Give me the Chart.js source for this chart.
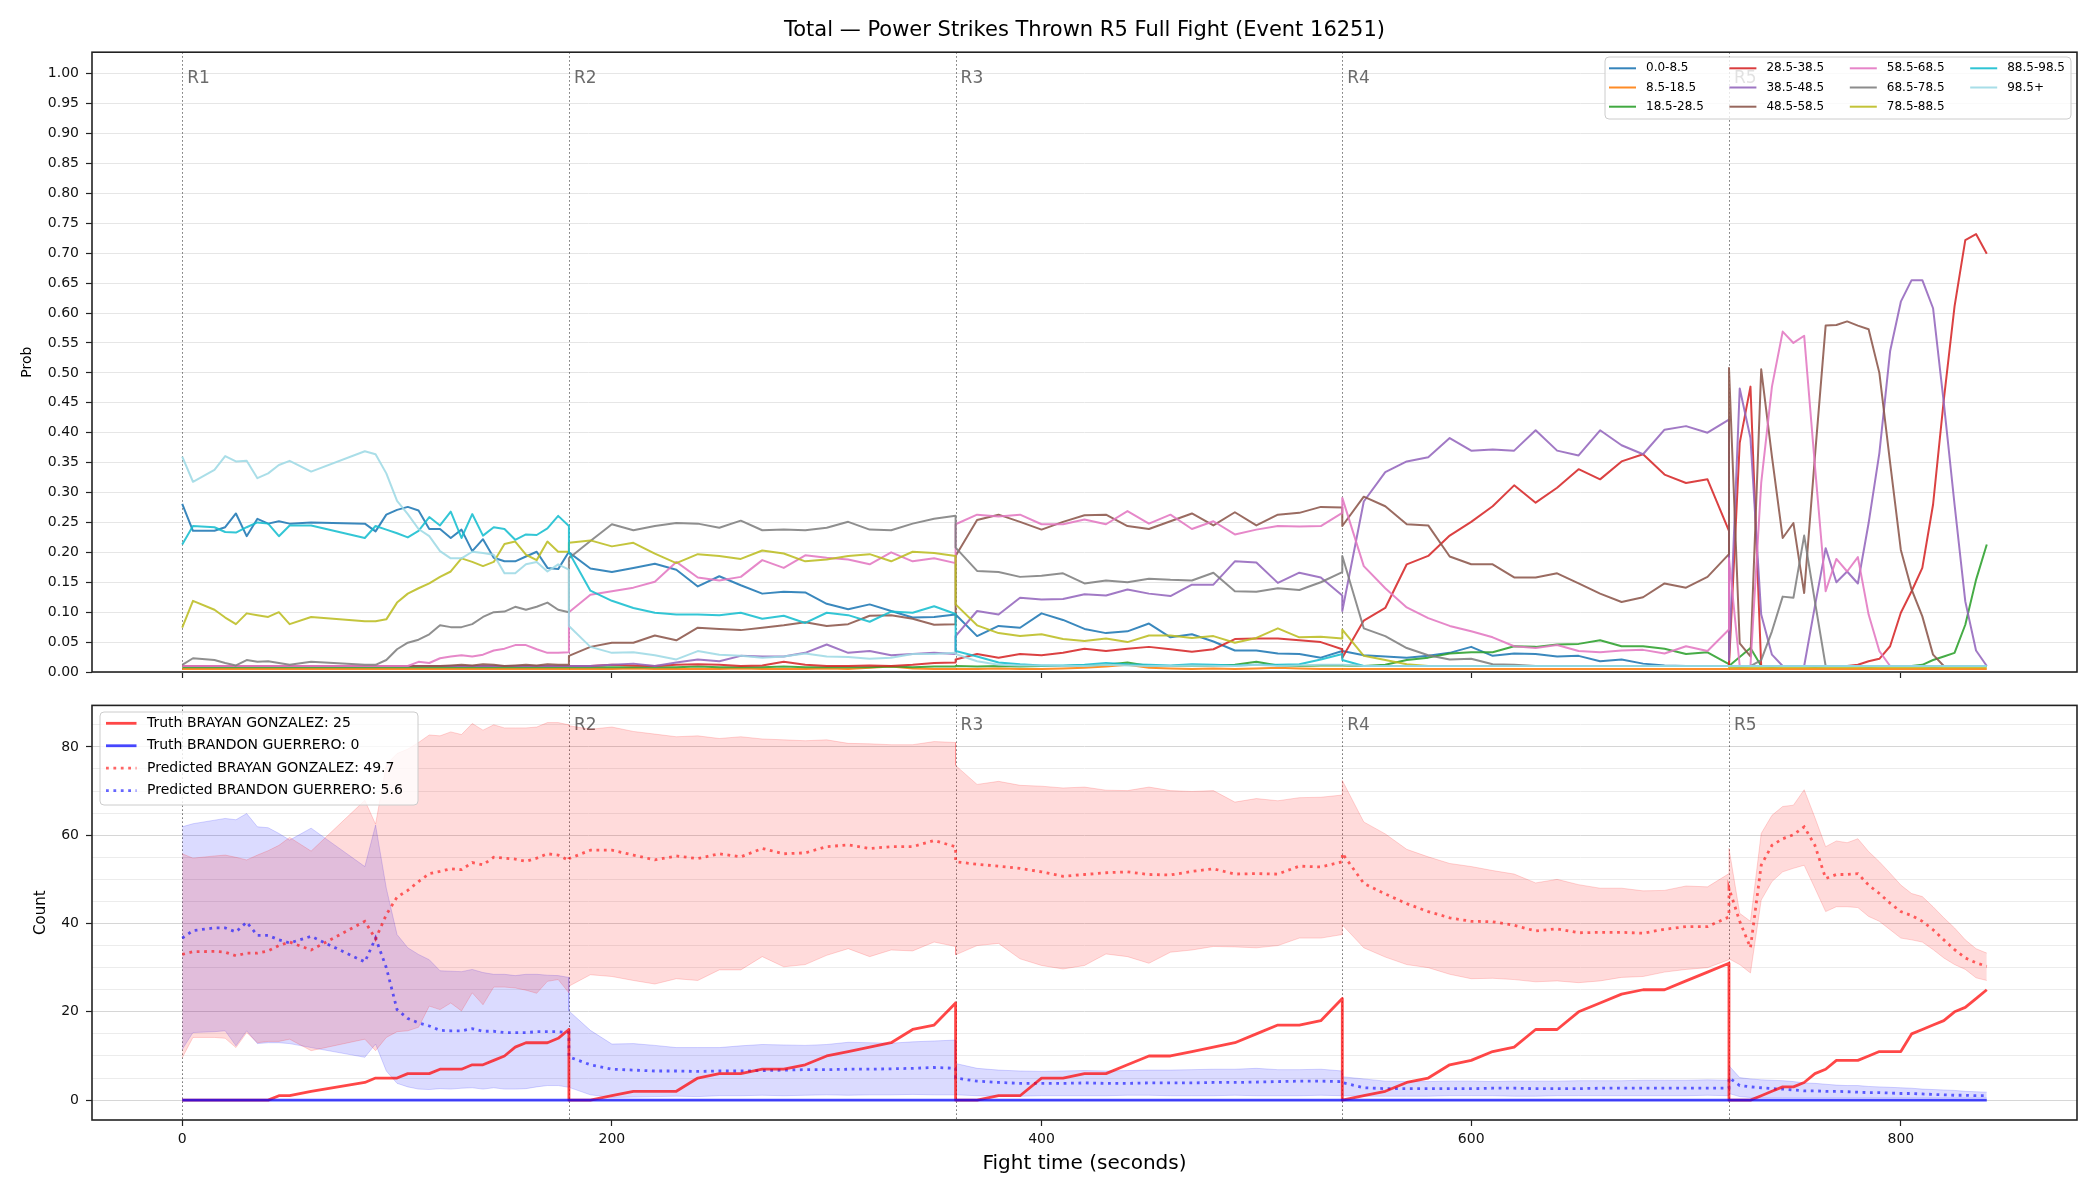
<!DOCTYPE html>
<html>
<head>
<meta charset="utf-8">
<script src="https://cdn.jsdelivr.net/npm/chart.js@4.4.1/dist/chart.umd.min.js"></script>
<style>
  body { margin: 0; background: #fff; }
  #wrap { position: relative; width: 2100px; height: 1200px; }
  #probChart { position: absolute; left: 0; top: 0; }
  #countChart { position: absolute; left: 0; top: 690px; }
</style>
</head>
<body>
<div id="wrap">
  <canvas id="probChart" width="2100" height="690"></canvas>
  <canvas id="countChart" width="2100" height="510"></canvas>
</div>
<script>
// sample times (seconds); each round repeats its boundary second
const times = [
  0, 5, 15, 20, 25, 30, 35, 40, 45, 50, 60, 85, 90, 95, 100, 105, 110, 115, 120, 125, 130, 135, 140, 145, 150, 155, 160, 165, 170, 175, 180,
  180, 190, 200, 210, 220, 230, 240, 250, 260, 270, 280, 290, 300, 310, 320, 330, 340, 350, 360,
  360, 370, 380, 390, 400, 410, 420, 430, 440, 450, 460, 470, 480, 490, 500, 510, 520, 530, 540,
  540, 550, 560, 570, 580, 590, 600, 610, 620, 630, 640, 650, 660, 670, 680, 690, 700, 710, 720,
  720, 725, 730, 735, 740, 745, 750, 755, 760, 765, 770, 775, 780, 785, 790, 795, 800, 805, 810, 815, 820, 825, 830, 835, 840
];

const roundStarts = [0, 180, 360, 540, 720];
const roundNames = ['R1', 'R2', 'R3', 'R4', 'R5'];

const bucketLabels = ['0.0-8.5', '8.5-18.5', '18.5-28.5', '28.5-38.5', '38.5-48.5', '48.5-58.5',
  '58.5-68.5', '68.5-78.5', '78.5-88.5', '88.5-98.5', '98.5+'];

// probability of each bucket
const p0_8 = [
  0.281, 0.236, 0.236, 0.242, 0.265, 0.227, 0.256, 0.248, 0.252, 0.248, 0.250, 0.248, 0.235, 0.263, 0.271, 0.276, 0.270, 0.239, 0.239, 0.224, 0.238, 0.202, 0.222, 0.191, 0.185, 0.185, 0.193, 0.201, 0.174, 0.172, 0.201,
  0.200, 0.173, 0.167, 0.174, 0.181, 0.171, 0.143, 0.160, 0.145, 0.131, 0.134, 0.133, 0.114, 0.105, 0.113, 0.102, 0.091, 0.092, 0.096,
  0.096, 0.060, 0.077, 0.074, 0.098, 0.087, 0.072, 0.065, 0.068, 0.081, 0.058, 0.063, 0.051, 0.036, 0.036, 0.031, 0.030, 0.024, 0.035,
  0.035, 0.028, 0.026, 0.024, 0.027, 0.032, 0.042, 0.027, 0.031, 0.030, 0.026, 0.027, 0.018, 0.021, 0.014, 0.011, 0.010, 0.010, 0.010,
  0.010, 0.009, 0.010, 0.010, 0.009, 0.010, 0.010, 0.010, 0.009, 0.010, 0.010, 0.010, 0.010, 0.009, 0.010, 0.010, 0.010, 0.010, 0.010, 0.009, 0.010, 0.010, 0.010, 0.010, 0.010
];
const p8_18 = [
  0.005, 0.005, 0.005, 0.005, 0.005, 0.005, 0.005, 0.005, 0.005, 0.005, 0.005, 0.005, 0.005, 0.005, 0.005, 0.005, 0.005, 0.005, 0.005, 0.005, 0.005, 0.005, 0.005, 0.005, 0.005, 0.005, 0.005, 0.005, 0.005, 0.005, 0.005,
  0.005, 0.005, 0.005, 0.006, 0.005, 0.005, 0.005, 0.005, 0.006, 0.005, 0.005, 0.005, 0.006, 0.005, 0.007, 0.009, 0.006, 0.005, 0.005,
  0.005, 0.005, 0.006, 0.005, 0.005, 0.006, 0.007, 0.009, 0.012, 0.007, 0.006, 0.005, 0.006, 0.005, 0.006, 0.007, 0.006, 0.005, 0.005,
  0.005, 0.005, 0.005, 0.005, 0.005, 0.005, 0.005, 0.005, 0.005, 0.005, 0.005, 0.005, 0.005, 0.005, 0.005, 0.005, 0.005, 0.005, 0.005,
  0.005, 0.005, 0.005, 0.005, 0.005, 0.005, 0.005, 0.005, 0.005, 0.005, 0.005, 0.005, 0.005, 0.005, 0.005, 0.005, 0.005, 0.005, 0.005, 0.005, 0.005, 0.005, 0.005, 0.005, 0.005
];
const p18_28 = [
  0.008, 0.008, 0.008, 0.008, 0.008, 0.008, 0.008, 0.008, 0.008, 0.008, 0.008, 0.008, 0.008, 0.008, 0.008, 0.008, 0.008, 0.008, 0.008, 0.008, 0.008, 0.008, 0.008, 0.008, 0.008, 0.008, 0.008, 0.008, 0.008, 0.008, 0.008,
  0.008, 0.008, 0.008, 0.008, 0.008, 0.008, 0.009, 0.008, 0.008, 0.008, 0.009, 0.008, 0.008, 0.008, 0.008, 0.009, 0.008, 0.009, 0.009,
  0.010, 0.009, 0.010, 0.009, 0.010, 0.010, 0.011, 0.012, 0.016, 0.010, 0.010, 0.011, 0.010, 0.012, 0.017, 0.011, 0.010, 0.011, 0.011,
  0.011, 0.010, 0.012, 0.020, 0.024, 0.031, 0.033, 0.033, 0.043, 0.042, 0.046, 0.047, 0.053, 0.043, 0.043, 0.039, 0.030, 0.033, 0.013,
  0.010, 0.025, 0.040, 0.010, 0.010, 0.010, 0.010, 0.010, 0.010, 0.010, 0.010, 0.010, 0.010, 0.010, 0.010, 0.010, 0.010, 0.010, 0.012, 0.020, 0.026, 0.032, 0.079, 0.154, 0.213
];
const p28_38 = [
  0.010, 0.010, 0.010, 0.010, 0.010, 0.010, 0.010, 0.010, 0.010, 0.010, 0.010, 0.010, 0.010, 0.010, 0.010, 0.010, 0.010, 0.010, 0.010, 0.010, 0.010, 0.010, 0.010, 0.010, 0.010, 0.010, 0.010, 0.010, 0.010, 0.010, 0.010,
  0.010, 0.010, 0.012, 0.011, 0.010, 0.012, 0.013, 0.012, 0.010, 0.011, 0.017, 0.012, 0.010, 0.010, 0.011, 0.010, 0.012, 0.015, 0.016,
  0.021, 0.030, 0.024, 0.030, 0.028, 0.032, 0.039, 0.035, 0.039, 0.042, 0.038, 0.034, 0.038, 0.055, 0.056, 0.056, 0.053, 0.050, 0.038,
  0.024, 0.086, 0.107, 0.180, 0.194, 0.228, 0.251, 0.277, 0.312, 0.283, 0.308, 0.339, 0.322, 0.352, 0.364, 0.330, 0.316, 0.322, 0.236,
  0.010, 0.383, 0.477, 0.010, 0.010, 0.010, 0.010, 0.010, 0.010, 0.010, 0.010, 0.010, 0.012, 0.018, 0.022, 0.043, 0.099, 0.135, 0.174, 0.280, 0.455, 0.611, 0.722, 0.732, 0.699
];
const p38_48 = [
  0.010, 0.010, 0.010, 0.010, 0.010, 0.010, 0.010, 0.010, 0.010, 0.010, 0.010, 0.010, 0.010, 0.010, 0.010, 0.010, 0.010, 0.010, 0.010, 0.010, 0.010, 0.010, 0.010, 0.010, 0.010, 0.010, 0.010, 0.010, 0.010, 0.010, 0.010,
  0.010, 0.010, 0.012, 0.014, 0.010, 0.016, 0.021, 0.018, 0.027, 0.026, 0.026, 0.032, 0.046, 0.032, 0.035, 0.028, 0.030, 0.032, 0.030,
  0.060, 0.102, 0.096, 0.124, 0.121, 0.122, 0.130, 0.128, 0.138, 0.131, 0.127, 0.146, 0.146, 0.185, 0.183, 0.149, 0.166, 0.158, 0.128,
  0.102, 0.285, 0.334, 0.352, 0.359, 0.391, 0.370, 0.372, 0.370, 0.404, 0.370, 0.362, 0.404, 0.379, 0.364, 0.405, 0.411, 0.400, 0.422,
  0.020, 0.474, 0.391, 0.096, 0.029, 0.010, 0.010, 0.010, 0.110, 0.207, 0.150, 0.168, 0.148, 0.249, 0.366, 0.536, 0.619, 0.655, 0.655, 0.608, 0.450, 0.280, 0.118, 0.036, 0.010
];
const p48_58 = [
  0.010, 0.010, 0.010, 0.010, 0.010, 0.010, 0.010, 0.010, 0.010, 0.010, 0.010, 0.010, 0.010, 0.010, 0.010, 0.010, 0.010, 0.010, 0.010, 0.011, 0.012, 0.011, 0.013, 0.012, 0.010, 0.011, 0.012, 0.011, 0.013, 0.012, 0.012,
  0.027, 0.042, 0.049, 0.049, 0.061, 0.053, 0.074, 0.072, 0.070, 0.074, 0.078, 0.083, 0.077, 0.080, 0.094, 0.095, 0.089, 0.079, 0.080,
  0.194, 0.254, 0.263, 0.251, 0.238, 0.251, 0.262, 0.263, 0.244, 0.239, 0.252, 0.265, 0.245, 0.267, 0.245, 0.263, 0.266, 0.276, 0.275,
  0.244, 0.293, 0.277, 0.247, 0.245, 0.193, 0.180, 0.180, 0.158, 0.158, 0.165, 0.148, 0.131, 0.117, 0.125, 0.148, 0.141, 0.159, 0.197,
  0.508, 0.048, 0.026, 0.506, 0.360, 0.224, 0.249, 0.132, 0.360, 0.579, 0.580, 0.586, 0.579, 0.573, 0.500, 0.350, 0.204, 0.138, 0.093, 0.029, 0.010, 0.010, 0.010, 0.010, 0.010
];
const p58_68 = [
  0.010, 0.010, 0.010, 0.010, 0.010, 0.010, 0.010, 0.010, 0.010, 0.010, 0.010, 0.010, 0.010, 0.010, 0.010, 0.010, 0.017, 0.015, 0.023, 0.026, 0.028, 0.026, 0.029, 0.036, 0.039, 0.045, 0.045, 0.038, 0.032, 0.032, 0.033,
  0.100, 0.129, 0.135, 0.141, 0.151, 0.184, 0.158, 0.153, 0.159, 0.187, 0.174, 0.195, 0.191, 0.188, 0.180, 0.200, 0.185, 0.190, 0.182,
  0.247, 0.263, 0.260, 0.263, 0.247, 0.247, 0.255, 0.247, 0.269, 0.248, 0.263, 0.239, 0.252, 0.230, 0.238, 0.244, 0.243, 0.244, 0.266,
  0.291, 0.177, 0.140, 0.108, 0.090, 0.077, 0.068, 0.058, 0.043, 0.040, 0.045, 0.035, 0.033, 0.036, 0.037, 0.031, 0.043, 0.035, 0.071,
  0.190, 0.010, 0.010, 0.316, 0.477, 0.569, 0.550, 0.562, 0.345, 0.135, 0.189, 0.168, 0.192, 0.096, 0.035, 0.010, 0.010, 0.010, 0.010, 0.010, 0.010, 0.010, 0.010, 0.010, 0.010
];
const p68_78 = [
  0.012, 0.023, 0.020, 0.015, 0.011, 0.020, 0.017, 0.018, 0.015, 0.012, 0.017, 0.012, 0.012, 0.020, 0.038, 0.049, 0.054, 0.063, 0.078, 0.075, 0.075, 0.080, 0.092, 0.100, 0.101, 0.109, 0.104, 0.109, 0.116, 0.104, 0.100,
  0.190, 0.219, 0.247, 0.237, 0.244, 0.249, 0.248, 0.241, 0.253, 0.237, 0.238, 0.237, 0.241, 0.251, 0.238, 0.237, 0.248, 0.256, 0.261,
  0.208, 0.169, 0.167, 0.159, 0.161, 0.165, 0.148, 0.153, 0.150, 0.156, 0.154, 0.153, 0.166, 0.135, 0.134, 0.140, 0.137, 0.150, 0.167,
  0.194, 0.073, 0.060, 0.040, 0.028, 0.021, 0.022, 0.013, 0.012, 0.010, 0.010, 0.010, 0.010, 0.010, 0.010, 0.010, 0.010, 0.010, 0.010,
  0.010, 0.010, 0.010, 0.020, 0.068, 0.126, 0.124, 0.228, 0.118, 0.010, 0.010, 0.010, 0.010, 0.010, 0.010, 0.010, 0.010, 0.010, 0.010, 0.010, 0.010, 0.010, 0.010, 0.010, 0.010
];
const p78_88 = [
  0.074, 0.119, 0.104, 0.091, 0.080, 0.098, 0.095, 0.092, 0.100, 0.080, 0.092, 0.085, 0.085, 0.088, 0.116, 0.131, 0.140, 0.148, 0.159, 0.168, 0.190, 0.184, 0.177, 0.184, 0.214, 0.218, 0.196, 0.187, 0.218, 0.201, 0.201,
  0.216, 0.220, 0.210, 0.216, 0.198, 0.182, 0.197, 0.194, 0.189, 0.203, 0.198, 0.185, 0.188, 0.194, 0.197, 0.185, 0.201, 0.199, 0.194,
  0.113, 0.078, 0.065, 0.060, 0.063, 0.055, 0.052, 0.056, 0.050, 0.061, 0.061, 0.057, 0.060, 0.049, 0.057, 0.073, 0.058, 0.059, 0.056,
  0.071, 0.027, 0.020, 0.013, 0.010, 0.010, 0.010, 0.010, 0.010, 0.010, 0.010, 0.010, 0.010, 0.010, 0.010, 0.010, 0.010, 0.010, 0.010,
  0.008, 0.008, 0.008, 0.008, 0.008, 0.008, 0.008, 0.008, 0.008, 0.008, 0.008, 0.008, 0.008, 0.008, 0.008, 0.008, 0.008, 0.008, 0.008, 0.008, 0.008, 0.008, 0.008, 0.008, 0.008
];
const p88_98 = [
  0.213, 0.244, 0.242, 0.234, 0.233, 0.242, 0.250, 0.248, 0.227, 0.245, 0.245, 0.224, 0.244, 0.238, 0.232, 0.225, 0.236, 0.259, 0.245, 0.268, 0.224, 0.264, 0.228, 0.242, 0.239, 0.221, 0.230, 0.229, 0.240, 0.261, 0.244,
  0.200, 0.136, 0.119, 0.107, 0.099, 0.096, 0.096, 0.095, 0.099, 0.089, 0.094, 0.082, 0.099, 0.095, 0.084, 0.101, 0.099, 0.110, 0.097,
  0.035, 0.026, 0.016, 0.013, 0.011, 0.011, 0.012, 0.015, 0.013, 0.012, 0.011, 0.013, 0.012, 0.011, 0.012, 0.012, 0.013, 0.021, 0.030,
  0.020, 0.010, 0.010, 0.010, 0.010, 0.010, 0.010, 0.010, 0.010, 0.010, 0.010, 0.010, 0.010, 0.010, 0.010, 0.010, 0.010, 0.010, 0.010,
  0.010, 0.010, 0.010, 0.010, 0.010, 0.010, 0.010, 0.010, 0.010, 0.010, 0.010, 0.010, 0.010, 0.010, 0.010, 0.010, 0.010, 0.010, 0.010, 0.010, 0.010, 0.010, 0.010, 0.010, 0.010
];
const p98plus = [
  0.360, 0.318, 0.338, 0.361, 0.352, 0.353, 0.324, 0.332, 0.346, 0.353, 0.335, 0.369, 0.364, 0.332, 0.286, 0.264, 0.239, 0.227, 0.202, 0.190, 0.190, 0.201, 0.199, 0.196, 0.165, 0.165, 0.180, 0.184, 0.168, 0.180, 0.171,
  0.077, 0.042, 0.032, 0.033, 0.028, 0.021, 0.035, 0.029, 0.027, 0.024, 0.026, 0.031, 0.026, 0.025, 0.022, 0.024, 0.030, 0.030, 0.032,
  0.030, 0.018, 0.012, 0.011, 0.011, 0.010, 0.010, 0.012, 0.011, 0.010, 0.010, 0.011, 0.010, 0.010, 0.012, 0.010, 0.011, 0.012, 0.012,
  0.012, 0.010, 0.010, 0.010, 0.010, 0.010, 0.010, 0.010, 0.010, 0.010, 0.010, 0.010, 0.010, 0.010, 0.010, 0.010, 0.010, 0.010, 0.010,
  0.010, 0.010, 0.010, 0.010, 0.010, 0.010, 0.010, 0.010, 0.010, 0.010, 0.010, 0.010, 0.010, 0.010, 0.010, 0.010, 0.010, 0.010, 0.010, 0.010, 0.010, 0.010, 0.010, 0.010, 0.010
];

// cumulative counts
const truthGonzalez = [
  0, 0, 0, 0, 0, 0, 0, 0, 1, 1, 2, 4, 5, 5, 5, 6, 6, 6, 7, 7, 7, 8, 8, 9, 10, 12, 13, 13, 13, 14, 16,
  0, 0, 1, 2, 2, 2, 5, 6, 6, 7, 7, 8, 10, 11, 12, 13, 16, 17, 22,
  0, 0, 1, 1, 5, 5, 6, 6, 8, 10, 10, 11, 12, 13, 15, 17, 17, 18, 23,
  0, 1, 2, 4, 5, 8, 9, 11, 12, 16, 16, 20, 22, 24, 25, 25, 27, 29, 31,
  0, 0, 0, 1, 2, 3, 3, 4, 6, 7, 9, 9, 9, 10, 11, 11, 11, 15, 16, 17, 18, 20, 21, 23, 25
];
const truthGuerrero = [
  0, 0, 0, 0, 0, 0, 0, 0, 0, 0, 0, 0, 0, 0, 0, 0, 0, 0, 0, 0, 0, 0, 0, 0, 0, 0, 0, 0, 0, 0, 0,
  0, 0, 0, 0, 0, 0, 0, 0, 0, 0, 0, 0, 0, 0, 0, 0, 0, 0, 0,
  0, 0, 0, 0, 0, 0, 0, 0, 0, 0, 0, 0, 0, 0, 0, 0, 0, 0, 0,
  0, 0, 0, 0, 0, 0, 0, 0, 0, 0, 0, 0, 0, 0, 0, 0, 0, 0, 0,
  0, 0, 0, 0, 0, 0, 0, 0, 0, 0, 0, 0, 0, 0, 0, 0, 0, 0, 0, 0, 0, 0, 0, 0, 0
];
const predGonzalez = [
  33.0, 33.6, 33.7, 33.5, 32.7, 33.3, 33.3, 33.8, 35.0, 35.8, 34.0, 40.5, 36.5, 42.0, 46.0, 47.5, 49.5, 51.3, 51.8, 52.4, 52.2, 53.8, 53.3, 55.0, 54.8, 54.6, 54.1, 54.8, 55.8, 55.5, 54.3,
  54.7, 56.6, 56.6, 55.5, 54.4, 55.3, 54.7, 55.8, 55.1, 57.0, 55.8, 56.0, 57.4, 57.8, 57.0, 57.4, 57.4, 58.8, 57.4,
  54.0, 53.4, 53.0, 52.5, 51.7, 50.7, 51.1, 51.5, 51.7, 51.1, 51.0, 51.8, 52.4, 51.2, 51.3, 51.2, 53.0, 52.8, 54.0,
  55.9, 49.1, 46.7, 44.5, 42.7, 41.3, 40.5, 40.4, 39.6, 38.3, 38.8, 37.9, 38.0, 38.0, 37.8, 38.7, 39.3, 39.3, 41.5,
  48.0, 40.5, 34.5, 53.2, 57.7, 59.2, 60.1, 61.9, 57.7, 50.2, 51.1, 51.1, 51.3, 48.7, 46.8, 44.6, 42.7, 41.8, 40.5, 38.6, 36.3, 34.1, 32.2, 31.1, 30.3
];
const predGuerrero = [
  36.7, 38.4, 39.0, 39.0, 38.1, 40.3, 37.3, 37.3, 36.3, 35.6, 37.1, 31.3, 36.7, 30.0, 20.5, 18.5, 17.5, 16.8, 15.8, 15.7, 15.7, 16.2, 15.6, 15.6, 15.3, 15.3, 15.3, 15.5, 15.5, 15.5, 15.3,
  9.8, 8.0, 7.0, 6.8, 6.6, 6.6, 6.5, 6.6, 6.6, 6.7, 6.8, 6.9, 6.9, 7.0, 7.0, 7.1, 7.2, 7.4, 7.2,
  5.0, 4.3, 4.0, 3.8, 3.8, 3.8, 3.9, 3.8, 3.8, 3.9, 3.9, 3.9, 4.0, 4.0, 4.1, 4.2, 4.3, 4.3, 4.2,
  4.0, 2.8, 2.6, 2.6, 2.6, 2.6, 2.6, 2.7, 2.7, 2.6, 2.6, 2.6, 2.7, 2.7, 2.7, 2.7, 2.7, 2.7, 2.7,
  5.1, 3.3, 3.0, 2.8, 2.6, 2.5, 2.3, 2.1, 2.1, 2.0, 2.0, 1.9, 1.8, 1.7, 1.7, 1.6, 1.5, 1.5, 1.4, 1.3, 1.2, 1.1, 1.1, 1.0, 1.0
];
const gonzalezHi = [
  55.8, 54.8, 55.3, 55.5, 55.0, 54.4, 55.5, 56.5, 57.7, 59.5, 56.4, 67.9, 62.5, 76.0, 78.5, 79.5, 81.0, 82.7, 82.5, 83.4, 82.8, 85.3, 83.8, 85.0, 84.3, 84.3, 84.3, 84.5, 85.5, 85.5, 85.0,
  84.8, 84.0, 84.5, 83.5, 82.9, 82.3, 82.5, 81.9, 82.3, 81.8, 81.6, 81.4, 81.6, 80.8, 80.7, 80.5, 80.5, 81.2, 81.0,
  75.8, 71.5, 72.2, 71.3, 71.1, 70.7, 70.9, 70.2, 70.1, 70.9, 70.1, 69.9, 70.1, 67.5, 68.3, 67.8, 68.5, 68.6, 69.1,
  72.4, 63.0, 60.3, 56.8, 55.1, 53.6, 52.9, 52.0, 51.2, 49.2, 50.0, 48.8, 48.0, 48.0, 47.4, 47.5, 48.5, 48.3, 51.3,
  57.0, 42.3, 40.5, 60.4, 64.5, 66.5, 66.8, 70.3, 64.0, 57.4, 58.7, 58.3, 59.2, 56.3, 54.0, 51.4, 48.7, 46.8, 46.1, 43.8, 41.3, 39.0, 36.3, 34.3, 33.3
];
const gonzalezLo = [
  9.6, 14.2, 14.2, 14.0, 11.9, 15.3, 13.0, 13.3, 13.3, 13.8, 11.2, 13.8, 11.2, 14.2, 15.5, 15.7, 16.5, 21.3, 20.5, 22.0, 20.2, 24.3, 21.6, 25.6, 25.6, 25.4, 24.9, 24.2, 26.9, 27.3, 24.3,
  25.8, 28.4, 28.0, 27.1, 26.3, 27.5, 27.1, 29.5, 29.5, 32.5, 30.2, 30.7, 32.8, 34.3, 32.5, 34.0, 33.8, 35.8, 34.8,
  32.9, 35.0, 35.5, 32.0, 30.5, 29.7, 30.5, 33.1, 32.5, 31.0, 33.5, 34.0, 34.8, 34.7, 34.5, 35.0, 36.7, 36.7, 37.5,
  39.7, 34.5, 32.4, 30.7, 30.0, 28.5, 27.5, 27.6, 27.3, 26.8, 27.0, 26.6, 27.0, 27.8, 28.0, 29.0, 29.6, 30.0, 31.8,
  32.0, 30.7, 28.8, 45.3, 49.5, 51.7, 52.5, 53.2, 48.0, 42.7, 43.8, 43.8, 43.6, 41.6, 40.5, 38.6, 36.7, 36.3, 35.8, 34.1, 32.2, 30.7, 29.6, 27.7, 27.1
];
const guerreroHi = [
  61.9, 62.6, 63.4, 63.8, 63.5, 64.9, 61.9, 61.7, 60.4, 58.9, 61.6, 52.9, 62.3, 48.0, 37.5, 34.5, 33.0, 31.8, 29.3, 29.2, 29.1, 29.6, 28.9, 28.5, 28.5, 28.2, 28.5, 28.5, 28.3, 28.2, 27.8,
  20.2, 15.8, 12.7, 12.8, 12.4, 11.9, 11.9, 11.9, 12.3, 12.6, 12.5, 12.4, 12.6, 13.1, 13.0, 12.9, 13.2, 13.4, 13.6,
  8.3, 7.2, 6.8, 6.6, 6.5, 6.6, 6.7, 6.6, 6.7, 6.8, 6.8, 6.9, 7.0, 7.0, 7.2, 6.9, 6.9, 7.0, 6.6,
  5.3, 4.8, 4.3, 4.2, 4.2, 4.3, 4.3, 4.2, 4.3, 4.3, 4.3, 4.4, 4.4, 4.4, 4.5, 4.5, 4.5, 4.6, 4.5,
  7.8, 5.1, 4.8, 4.6, 4.5, 4.4, 4.2, 3.9, 3.8, 3.6, 3.4, 3.3, 3.3, 3.1, 3.0, 2.9, 2.8, 2.7, 2.5, 2.4, 2.3, 2.2, 2.0, 1.9, 1.8
];
const guerreroLo = [
  11.5, 15.3, 15.5, 15.7, 12.3, 15.7, 12.8, 13.0, 13.0, 12.8, 11.9, 9.7, 12.7, 6.6, 3.8, 3.0, 2.5, 2.4, 2.6, 2.5, 2.7, 2.8, 2.5, 2.8, 2.5, 2.5, 2.6, 3.0, 3.3, 3.3, 2.9,
  2.9, 1.2, 0.6, 0.7, 0.8, 0.9, 0.8, 1.0, 1.0, 1.1, 1.0, 1.1, 1.2, 1.1, 1.2, 1.2, 1.3, 1.2, 1.2,
  1.2, 1.0, 0.9, 0.9, 1.0, 1.0, 1.0, 1.0, 1.1, 1.1, 1.0, 1.0, 1.0, 1.1, 1.0, 1.0, 1.0, 1.1, 1.0,
  1.0, 0.9, 0.9, 0.9, 0.9, 1.0, 1.0, 1.0, 0.9, 0.9, 1.0, 1.0, 1.0, 1.0, 1.0, 1.0, 1.0, 1.1, 1.0,
  1.5, 0.8, 0.6, 0.5, 0.5, 0.5, 0.5, 0.5, 0.5, 0.5, 0.5, 0.5, 0.5, 0.5, 0.5, 0.5, 0.5, 0.5, 0.5, 0.5, 0.5, 0.5, 0.5, 0.5, 0.5
];

const countLabels = ['Truth BRAYAN GONZALEZ: 25', 'Truth BRANDON GUERRERO: 0',
  'Predicted BRAYAN GONZALEZ: 49.7', 'Predicted BRANDON GUERRERO: 5.6'];

// ---------------------------------------------------------------------------
const probSeries = [p0_8, p8_18, p18_28, p28_38, p38_48, p48_58, p58_68, p68_78, p78_88, p88_98, p98plus];
const probColors = ['#1f77b4', '#ff7f0e', '#2ca02c', '#d62728', '#9467bd', '#8c564b',
  '#e377c2', '#7f7f7f', '#bcbd22', '#17becf', '#9edae5'];

Chart.defaults.font.family = "'DejaVu Sans', sans-serif";
Chart.defaults.color = '#111';

function xy(vals) {
  return vals.map(function (v, i) { return { x: times[i], y: v }; });
}
function alpha(hex, a) {
  const n = parseInt(hex.slice(1), 16);
  return 'rgba(' + (n >> 16) + ',' + ((n >> 8) & 255) + ',' + (n & 255) + ',' + a + ')';
}

function drawLegend(ctx, box, items) {
  ctx.save();
  ctx.beginPath();
  ctx.roundRect(box.x, box.y, box.w, box.h, 4);
  ctx.fillStyle = 'rgba(255,255,255,0.8)';
  ctx.fill();
  ctx.strokeStyle = '#cccccc';
  ctx.lineWidth = 1;
  ctx.stroke();
  ctx.font = box.font + "px 'DejaVu Sans'";
  ctx.textBaseline = 'middle';
  ctx.fillStyle = '#000';
  items.forEach(function (it) {
    ctx.strokeStyle = it.color;
    ctx.lineWidth = it.width;
    ctx.setLineDash(it.dash || []);
    ctx.beginPath();
    ctx.moveTo(it.x, it.y);
    ctx.lineTo(it.x + box.handle, it.y);
    ctx.stroke();
    ctx.setLineDash([]);
    ctx.fillText(it.label, it.x + box.gap, it.y);
  });
  ctx.restore();
}

// round markers, frame and in-plot legend
function fightDecor(cfg) {
  return {
    id: 'fightDecor',
    beforeDatasetsDraw: function (chart) {
      const ctx = chart.ctx, a = chart.chartArea, x = chart.scales.x;
      ctx.save();
      ctx.strokeStyle = 'rgba(60,60,60,0.75)';
      ctx.lineWidth = 1;
      ctx.setLineDash([1.5, 2.5]);
      roundStarts.forEach(function (t) {
        const px = Math.round(x.getPixelForValue(t)) + 0.5;
        ctx.beginPath();
        ctx.moveTo(px, a.top);
        ctx.lineTo(px, a.bottom);
        ctx.stroke();
      });
      ctx.setLineDash([]);
      ctx.fillStyle = 'rgba(70,70,70,0.8)';
      ctx.font = "17px 'DejaVu Sans'";
      ctx.textBaseline = 'middle';
      roundStarts.forEach(function (t, i) {
        if (i < cfg.firstLabel) return;
        ctx.fillText(roundNames[i], x.getPixelForValue(t) + 5, a.top + cfg.labelDy);
      });
      ctx.restore();
    },
    afterDraw: function (chart) {
      const ctx = chart.ctx, a = chart.chartArea;
      ctx.save();
      ctx.strokeStyle = '#222';
      ctx.lineWidth = 1.6;
      ctx.strokeRect(a.left, a.top, a.right - a.left, a.bottom - a.top);
      ctx.restore();
      drawLegend(ctx, cfg.legendBox, cfg.legendItems);
    }
  };
}

// ---------------------------- top: probabilities ---------------------------
const probLegend = bucketLabels.map(function (lab, i) {
  return { label: lab, color: alpha(probColors[i], 0.9), width: 2,
    x: 1609 + 120.4 * Math.floor(i / 3), y: 68.3 + 19.2 * (i % 3) };
});

new Chart(document.getElementById('probChart'), {
  type: 'line',
  data: {
    datasets: probSeries.map(function (vals, i) {
      return {
        label: bucketLabels[i],
        data: xy(vals),
        borderColor: alpha(probColors[i], 0.88),
        borderWidth: 2,
        pointRadius: 0,
        tension: 0,
        fill: false,
        borderJoinStyle: 'round',
        order: probSeries.length - i
      };
    })
  },
  options: {
    responsive: false,
    animation: false,
    events: [],
    layout: { padding: { left: 0, right: 23, top: 0, bottom: 0 } },
    plugins: {
      legend: { display: false },
      tooltip: { enabled: false },
      title: {
        display: true,
        fullSize: false,
        text: 'Total \u2014 Power Strikes Thrown R5 Full Fight (Event 16251)',
        color: '#000',
        font: { size: 21, weight: 'normal' },
        padding: { top: 18, bottom: 9 }
      }
    },
    scales: {
      x: {
        type: 'linear', min: -42, max: 882,
        afterFit: function (s) { s.height = 18; },
        ticks: { display: false, stepSize: 200, includeBounds: false },
        grid: { drawOnChartArea: false, drawTicks: true, tickLength: 6, tickColor: '#222', tickWidth: 1.2 },
        border: { display: false }
      },
      y: {
        min: 0, max: 1.036,
        afterFit: function (s) { s.width = 92; },
        ticks: {
          stepSize: 0.05, includeBounds: false, autoSkip: false, padding: 7,
          font: { size: 14 },
          callback: function (v) { return Number(v).toFixed(2); }
        },
        grid: { color: '#e6e6e6', lineWidth: 1, tickLength: 6, tickColor: '#222', tickWidth: 1.2 },
        border: { display: false },
        title: { display: true, text: 'Prob', color: '#000', font: { size: 14 }, padding: { top: 19, bottom: 0 } }
      }
    }
  },
  plugins: [fightDecor({
    firstLabel: 0, labelDy: 26,
    legendBox: { x: 1605, y: 57, w: 466, h: 62, font: 12, handle: 27, gap: 37 },
    legendItems: probLegend
  })]
});

// ------------------------------ bottom: counts -----------------------------
const red = 'rgba(255,0,0,', blue = 'rgba(0,0,255,';
const countLegend = [
  { label: countLabels[0], color: red + '0.72)', width: 2.8 },
  { label: countLabels[1], color: blue + '0.72)', width: 2.8 },
  { label: countLabels[2], color: red + '0.6)', width: 2.8, dash: [2.8, 4.6] },
  { label: countLabels[3], color: blue + '0.6)', width: 2.8, dash: [2.8, 4.6] }
].map(function (it, i) { it.x = 106; it.y = 33.3 + 22.45 * i; return it; });

function bandSet(vals, color, fill) {
  return { data: xy(vals), borderColor: color + '0.16)', backgroundColor: color + '0.14)',
    borderWidth: 1, pointRadius: 0, tension: 0, fill: fill, order: 3 };
}

new Chart(document.getElementById('countChart'), {
  type: 'line',
  data: {
    datasets: [
      { label: countLabels[0], data: xy(truthGonzalez), borderColor: red + '0.72)', borderWidth: 2.8,
        pointRadius: 0, tension: 0, fill: false, order: 1, borderJoinStyle: 'round' },
      { label: countLabels[1], data: xy(truthGuerrero), borderColor: blue + '0.72)', borderWidth: 2.8,
        pointRadius: 0, tension: 0, fill: false, order: 0 },
      { label: countLabels[2], data: xy(predGonzalez), borderColor: red + '0.6)', borderWidth: 2.8,
        borderDash: [2.8, 4.6], pointRadius: 0, tension: 0, fill: false, order: 2 },
      { label: countLabels[3], data: xy(predGuerrero), borderColor: blue + '0.6)', borderWidth: 2.8,
        borderDash: [2.8, 4.6], pointRadius: 0, tension: 0, fill: false, order: 2 },
      bandSet(gonzalezLo, red, false),
      bandSet(gonzalezHi, red, '-1'),
      bandSet(guerreroLo, blue, false),
      bandSet(guerreroHi, blue, '-1')
    ]
  },
  options: {
    responsive: false,
    animation: false,
    events: [],
    layout: { padding: { left: 0, right: 23, top: 13, bottom: 0 } },
    plugins: { legend: { display: false }, tooltip: { enabled: false } },
    scales: {
      x: {
        type: 'linear', min: -42, max: 882,
        afterFit: function (s) { s.height = 80; },
        ticks: { stepSize: 200, includeBounds: false, padding: 5, font: { size: 14 } },
        grid: { drawOnChartArea: false, drawTicks: true, tickLength: 6, tickColor: '#222', tickWidth: 1.2 },
        border: { display: false },
        title: { display: true, text: 'Fight time (seconds)', color: '#000', font: { size: 20 }, padding: { top: 0, bottom: 24 } }
      },
      y: {
        min: -4.5, max: 89.4,
        afterFit: function (s) { s.width = 92; },
        ticks: {
          stepSize: 5, includeBounds: false, autoSkip: false, padding: 7,
          font: { size: 14 },
          callback: function (v) { return v % 20 === 0 ? String(v) : ''; }
        },
        grid: {
          color: function (c) { return c.tick && c.tick.value % 20 === 0 ? '#d6d6d6' : '#ececec'; },
          tickColor: function (c) { return c.tick && c.tick.value % 20 === 0 ? '#222' : 'rgba(0,0,0,0)'; },
          lineWidth: 1, tickLength: 6, tickWidth: 1.2
        },
        border: { display: false },
        title: { display: true, text: 'Count', color: '#000', font: { size: 15 }, padding: { top: 32, bottom: 0 } }
      }
    }
  },
  plugins: [fightDecor({
    firstLabel: 1, labelDy: 20,
    legendBox: { x: 100, y: 22, w: 318, h: 93, font: 14, handle: 30.5, gap: 41 },
    legendItems: countLegend
  })]
});
</script>
</body>
</html>
